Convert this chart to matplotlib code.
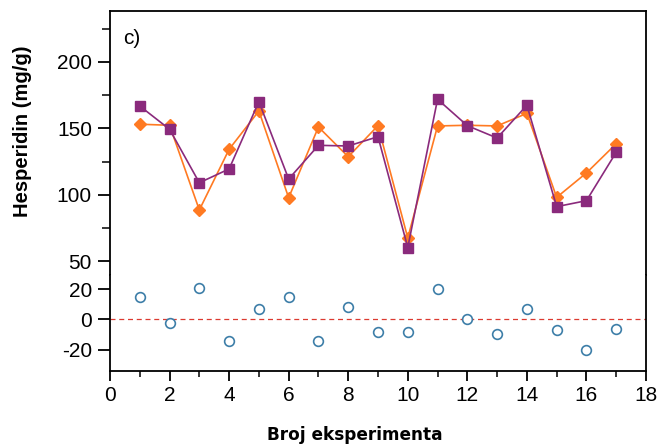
import matplotlib.pyplot as plt
from matplotlib.ticker import MultipleLocator

exp_no = list(range(1, 18))
experimental = [153.1, 152.3, 88.5, 134.2, 163.1, 97.7, 151.0, 128.6, 152.0, 67.4,
                151.8, 152.3, 151.8, 161.3, 98.0, 116.4, 138.4]
predicted = [166.8, 149.3, 109.0, 119.4, 170.1, 111.8, 137.2, 136.7, 143.7, 60.2,
             171.9, 152.0, 142.7, 167.4, 91.0, 95.5, 132.0]
residuals = [14.6, -2.6, 20.8, -14.2, 6.8, 14.9, -13.9, 8.5, -8.1, -8.0,
             20.2, 0.5, -9.6, 6.9, -6.6, -20.2, -6.4]

plt.rcParams['font.family'] = ['Liberation Sans', 'DejaVu Sans']
plt.rcParams['axes.unicode_minus'] = False

fig = plt.figure(figsize=(6.62, 4.46), dpi=100)
left, right = 110 / 662, 646 / 662
top, split, bottom = 1 - 11 / 446, 1 - 275 / 446, 1 - 371 / 446
ax1 = fig.add_axes([left, split, right - left, top - split])
ax2 = fig.add_axes([left, bottom, right - left, split - bottom], sharex=ax1)

purple = '#8a2a7c'
orange = '#ff7a22'

ax1.plot(exp_no, predicted, '-s', color=purple, ms=6.5, lw=1.2, zorder=3)
ax1.plot(exp_no, experimental, '-D', color=orange, ms=6, lw=1.2, zorder=2)
ax1.set_ylim(39.5, 238.4)
ax1.yaxis.set_major_locator(MultipleLocator(50))
ax1.yaxis.set_minor_locator(MultipleLocator(25))
ax1.spines['bottom'].set_visible(False)
ax1.tick_params(axis='x', which='both', bottom=False, labelbottom=False)
ax1.text(0.025, 0.93, 'c)', transform=ax1.transAxes, fontsize=15, va='top')

ax2.axhline(0, color='#dc3a30', ls='--', lw=0.9, dashes=(4, 3))
ax2.plot(exp_no, residuals, 'o', mfc='white', mec='#3d7ea8', mew=1.2, ms=7, ls='none')
ax2.set_ylim(-33.8, 29.2)
ax2.set_yticks([-20, 0, 20])
ax2.spines['top'].set_visible(False)
ax2.set_xlim(0, 18)
ax2.xaxis.set_major_locator(MultipleLocator(2))
ax2.xaxis.set_minor_locator(MultipleLocator(1))

for ax in (ax1, ax2):
    for s in ax.spines.values():
        s.set_linewidth(1.3)
    ax.tick_params(which='major', direction='out', width=1.3, labelsize=15)
    ax.tick_params(which='minor', direction='out', width=1.1)
    ax.tick_params(axis='y', which='major', length=9, pad=4)
    ax.tick_params(axis='y', which='minor', length=6)
    ax.tick_params(axis='x', which='major', length=7)
    ax.tick_params(axis='x', which='minor', length=4.5)

fig.text(23 / 662, 1 - 131 / 446, 'Hesperidin (mg/g)', rotation=90,
         fontsize=14.5, fontweight='bold', va='center', ha='center')
fig.text(355 / 662, 1 - 435 / 446, 'Broj eksperimenta', fontsize=12.2,
         fontweight='bold', family='DejaVu Sans', va='center', ha='center')

fig.savefig('out.png', dpi=100)
